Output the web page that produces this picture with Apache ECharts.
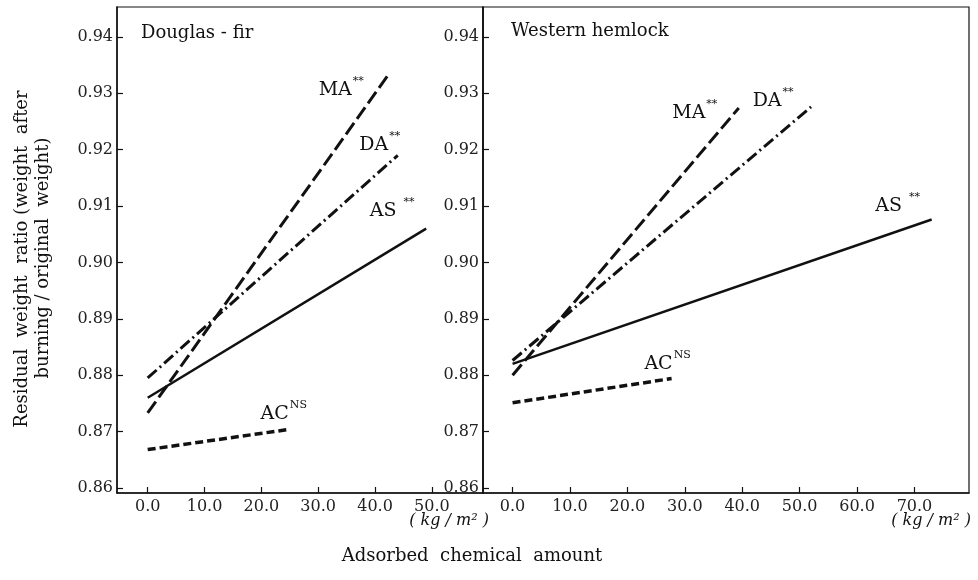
<!DOCTYPE html>
<html>
<head>
<meta charset="utf-8">
<script src="https://cdn.jsdelivr.net/npm/echarts@6/dist/echarts.min.js"></script>
<style>
* { margin: 0; padding: 0; }
#main { width: 978px; height: 580px; background: #fff; }
</style>
</head>
<body>
<div id="main"></div>
<script>
// tick labels
var yTicks = [0.86, 0.87, 0.88, 0.89, 0.90, 0.91, 0.92, 0.93, 0.94];
var firTicks = [0, 10, 20, 30, 40, 50];
var hemTicks = [0, 10, 20, 30, 40, 50, 60, 70];

// regression lines: [adsorbed amount kg/m2, residual weight ratio]
var firMA = [[0, 0.8733], [42.5, 0.9335]];
var firDA = [[0, 0.8795], [44, 0.919]];
var firAS = [[0, 0.876], [49, 0.906]];
var firAC = [[0, 0.8668], [25, 0.8704]];

var hemMA = [[0, 0.8800], [39.4, 0.9274]];
var hemDA = [[0, 0.8826], [52, 0.9276]];
var hemAS = [[0, 0.8820], [73, 0.9076]];
var hemAC = [[0, 0.8751], [27.7, 0.8794]];

var FONT = 'DejaVu Serif';
var INK = '#111';

function xAxis(grid, min, max, ticks) {
  return {
    gridIndex: grid, type: 'value', min: min, max: max,
    axisLine: { onZero: false, lineStyle: { color: INK, width: 1.5 } },
    axisTick: { inside: true, length: 6, customValues: ticks, lineStyle: { color: INK, width: 1.2 } },
    axisLabel: { customValues: ticks, formatter: function (v) { return v.toFixed(1); },
      fontFamily: FONT, fontSize: 16, color: '#222', margin: 6 },
    splitLine: { show: false }
  };
}

function yAxis(grid) {
  return {
    gridIndex: grid, type: 'value', min: 0.8591, max: 0.9453,
    axisLine: { onZero: false, lineStyle: { color: INK, width: 1.5 } },
    axisTick: { inside: true, length: 6, customValues: yTicks, lineStyle: { color: INK, width: 1.2 } },
    axisLabel: { customValues: yTicks, formatter: function (v) { return v.toFixed(2); },
      fontFamily: FONT, fontSize: 16, color: '#222', margin: 4 },
    splitLine: { show: false }
  };
}

function line(name, sup, data, dash, width, gi, off) {
  return {
    name: name, type: 'line', xAxisIndex: gi, yAxisIndex: gi,
    data: data, showSymbol: false, symbol: 'none', silent: true,
    lineStyle: { color: INK, width: width, type: dash, cap: 'butt' },
    markPoint: {
      symbol: 'circle', symbolSize: 0, silent: true,
      data: [{ coord: data[data.length - 1] }],
      label: {
        show: true, position: 'inside', offset: off,
        formatter: '{m|' + name + '}{s|' + sup + '}',
        rich: {
          m: { fontFamily: FONT, fontSize: 19, color: INK, lineHeight: 24, verticalAlign: 'bottom' },
          s: { fontFamily: FONT, fontSize: 11, color: INK, lineHeight: 24, verticalAlign: 'top', padding: [0, 0, 0, 1] }
        }
      }
    }
  };
}

var chart = echarts.init(document.getElementById('main'));
chart.setOption({
  backgroundColor: '#fff',
  animation: false,
  title: [
    { text: 'Douglas - fir', left: 136, top: 19, textStyle: { fontFamily: FONT, fontSize: 18, fontWeight: 'normal', color: INK } },
    { text: 'Western hemlock', left: 506, top: 17, textStyle: { fontFamily: FONT, fontSize: 18, fontWeight: 'normal', color: INK } }
  ],
  grid: [
    { left: 117, top: 7, width: 366, height: 486, show: true, borderColor: INK, borderWidth: 1.2 },
    { left: 483, top: 7, width: 486, height: 486, show: true, borderColor: INK, borderWidth: 1.2 }
  ],
  xAxis: [xAxis(0, -5.4, 59, firTicks), xAxis(1, -5.15, 79.5, hemTicks)],
  yAxis: [yAxis(0), yAxis(1)],
  series: [
    line('MA', '**', firMA, [14, 5], 3, 0, [-48, 14]),
    line('DA', '**', firDA, [12, 4, 2, 4], 3, 0, [-18, -13]),
    line('AS ', '**', firAS, 'solid', 2.5, 0, [-34, -20]),
    line('AC', 'NS', firAC, [8, 4], 3.5, 0, [-6, -18]),
    line('MA', '**', hemMA, [14, 5], 3, 1, [-44, 3]),
    line('DA', '**', hemDA, [12, 4, 2, 4], 3, 1, [-38, -8]),
    line('AS ', '**', hemAS, 'solid', 2.5, 1, [-34, -16]),
    line('AC', 'NS', hemAC, [8, 4], 3.5, 1, [-4, -17])
  ],
  graphic: [
    { type: 'text', x: 22, y: 259, rotation: Math.PI / 2,
      style: { text: 'Residual  weight  ratio (weight  after', font: '18px "DejaVu Serif"', fill: INK, align: 'center', verticalAlign: 'middle' } },
    { type: 'text', x: 43, y: 258, rotation: Math.PI / 2,
      style: { text: 'burning / original  weight)', font: '18px "DejaVu Serif"', fill: INK, align: 'center', verticalAlign: 'middle' } },
    { type: 'text', x: 472, y: 556,
      style: { text: 'Adsorbed  chemical  amount', font: '18px "DejaVu Serif"', fill: INK, align: 'center', verticalAlign: 'middle' } },
    { type: 'text', x: 449, y: 521,
      style: { text: '( kg / m² )', font: 'italic 16px "DejaVu Serif"', fill: INK, align: 'center', verticalAlign: 'middle' } },
    { type: 'text', x: 931, y: 521,
      style: { text: '( kg / m² )', font: 'italic 16px "DejaVu Serif"', fill: INK, align: 'center', verticalAlign: 'middle' } }
  ]
});
</script>
</body>
</html>
